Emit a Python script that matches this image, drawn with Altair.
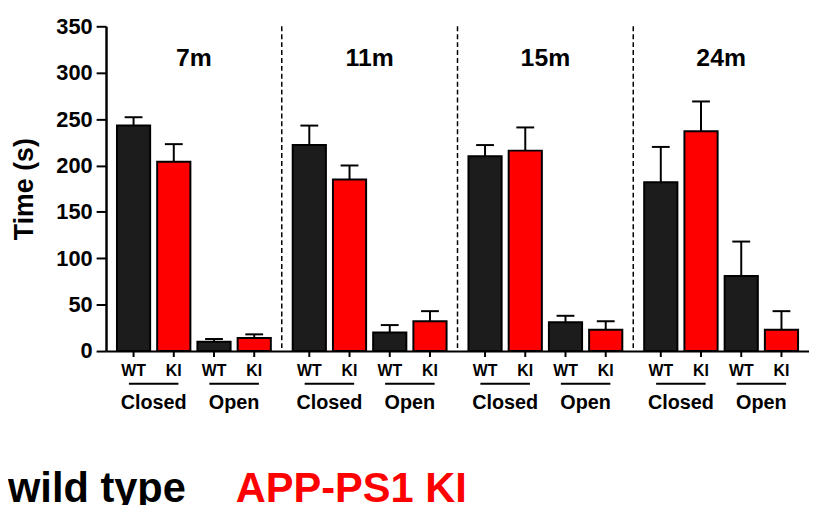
import altair as alt
import pandas as pd

# ---- data ----
ages = ["7m", "11m", "15m", "24m"]
slots = ["Closed-WT", "Closed-KI", "Open-WT", "Open-KI"]
pairs = ["Closed", "Open"]
genotypes = ["WT", "KI"]

wt_closed = [243, 222, 210, 182]
ki_closed = [204, 185, 216, 237]
wt_open = [10, 20, 31, 81]
ki_open = [14, 32, 23, 23]

wt_closed_err = [9, 21, 12, 38]
ki_closed_err = [19, 15, 25, 32]
wt_open_err = [3, 8, 7, 37]
ki_open_err = [4, 11, 9, 20]

legend_labels = ["wild type", "APP-PS1 KI"]
y_ticks = [0, 50, 100, 150, 200, 250, 300, 350]

# ---- build table ----
rows = []
series = {
    "Closed-WT": (wt_closed, wt_closed_err),
    "Closed-KI": (ki_closed, ki_closed_err),
    "Open-WT": (wt_open, wt_open_err),
    "Open-KI": (ki_open, ki_open_err),
}
for s in slots:
    vals, errs = series[s]
    pair, geno = s.split("-")
    for a, v, e in zip(ages, vals, errs):
        rows.append({"age": a, "slot": s, "pair": pair, "geno": geno,
                     "mean": v, "upper": v + e})
df = pd.DataFrame(rows)
pair_df = pd.DataFrame([{"age": a, "pair": p} for a in ages for p in pairs])
age_df = pd.DataFrame({"age": ages})
sep_df = pd.DataFrame({"age": ages[1:]})

FONT = "Liberation Sans"
PH = 328  # plot height in px

xscale = alt.Scale(type="band", domain=ages, paddingInner=0, paddingOuter=0)
X = alt.X("age:N", sort=ages, scale=xscale,
          axis=alt.Axis(labels=False, ticks=False, title=None, domainColor="black",
                        domainWidth=2, grid=False))
XO = alt.XOffset("slot:N", sort=slots,
                 scale=alt.Scale(type="band", domain=slots, paddingInner=0.175, paddingOuter=0.272))
XOP = alt.XOffset("pair:N", sort=pairs,
                  scale=alt.Scale(type="band", domain=pairs, paddingInner=0, paddingOuter=0.092))

Y = alt.Y("mean:Q", scale=alt.Scale(domain=[0, 350], nice=False, zero=True),
          axis=alt.Axis(values=y_ticks, title="Time (s)", tickSize=10, tickWidth=2,
                        tickColor="black", domainColor="black", domainWidth=2.5,
                        labelFontSize=22, labelFontWeight="bold", labelColor="black",
                        labelFont=FONT, labelPadding=4, titleFont=FONT,
                        titleFontSize=27, titleFontWeight="bold", titleColor="black",
                        titlePadding=18, grid=False))

base = alt.Chart(df)

bars = base.mark_bar(stroke="black", strokeWidth=2).encode(
    x=X, xOffset=XO, y=Y,
    color=alt.Color("geno:N", scale=alt.Scale(domain=genotypes, range=["#1c1c1c", "#ff0000"]),
                    legend=None),
)
err_line = base.mark_rule(color="black", strokeWidth=2).encode(
    x=X, xOffset=XO, y="mean:Q", y2="upper:Q")
err_cap = base.mark_tick(color="black", orient="horizontal", size=18, thickness=2,
                         opacity=1).encode(
    x=X, xOffset=XO, y="upper:Q")

xticks = base.mark_rule(color="black", strokeWidth=2).encode(
    x=X, xOffset=XO, y=alt.value(PH), y2=alt.value(PH + 6))
geno_text = base.mark_text(font=FONT, fontSize=16, fontWeight="bold", color="black",
                           baseline="alphabetic").encode(
    x=X, xOffset=XO, y=alt.value(353), text="geno:N")

underline = alt.Chart(pair_df).mark_tick(color="black", orient="horizontal", size=50,
                                         thickness=2, opacity=1).encode(
    x=X, xOffset=XOP, y=alt.value(361))
pair_text = alt.Chart(pair_df).mark_text(font=FONT, fontSize=20, fontWeight="bold",
                                         color="black", baseline="alphabetic").encode(
    x=X, xOffset=XOP, y=alt.value(387), text="pair:N")

age_text = alt.Chart(age_df).mark_text(font=FONT, fontSize=25, fontWeight="bold",
                                       color="black", baseline="alphabetic").encode(
    x=X, y=alt.value(40), text="age:N")

seps = alt.Chart(sep_df).mark_rule(color="black", strokeWidth=1.5, strokeDash=[5, 3]).encode(
    x=alt.X("age:N", sort=ages, bandPosition=0, scale=xscale),
    y=alt.value(0), y2=alt.value(PH))

leg1 = alt.Chart(pd.DataFrame({"t": [legend_labels[0]]})).mark_text(
    font=FONT, fontSize=42, fontWeight="bold", color="black",
    align="left", baseline="alphabetic").encode(
    x=alt.value(-99), y=alt.value(480), text="t:N")
leg2 = alt.Chart(pd.DataFrame({"t": [legend_labels[1]]})).mark_text(
    font=FONT, fontSize=42, fontWeight="bold", color="#ff0000",
    align="left", baseline="alphabetic").encode(
    x=alt.value(131), y=alt.value(480), text="t:N")

chart = alt.layer(
    seps, err_line, err_cap, bars, xticks, geno_text, underline, pair_text, age_text, leg1, leg2
).resolve_scale(xOffset="independent").properties(
    width=710, height=PH,
    autosize=alt.AutoSizeParams(type="none"),
    padding={"left": 99, "top": 16, "right": 0, "bottom": 153},
    background="white",
).configure_view(stroke=None)

chart.save("out.html", embed_options={"renderer": "svg", "actions": False})
